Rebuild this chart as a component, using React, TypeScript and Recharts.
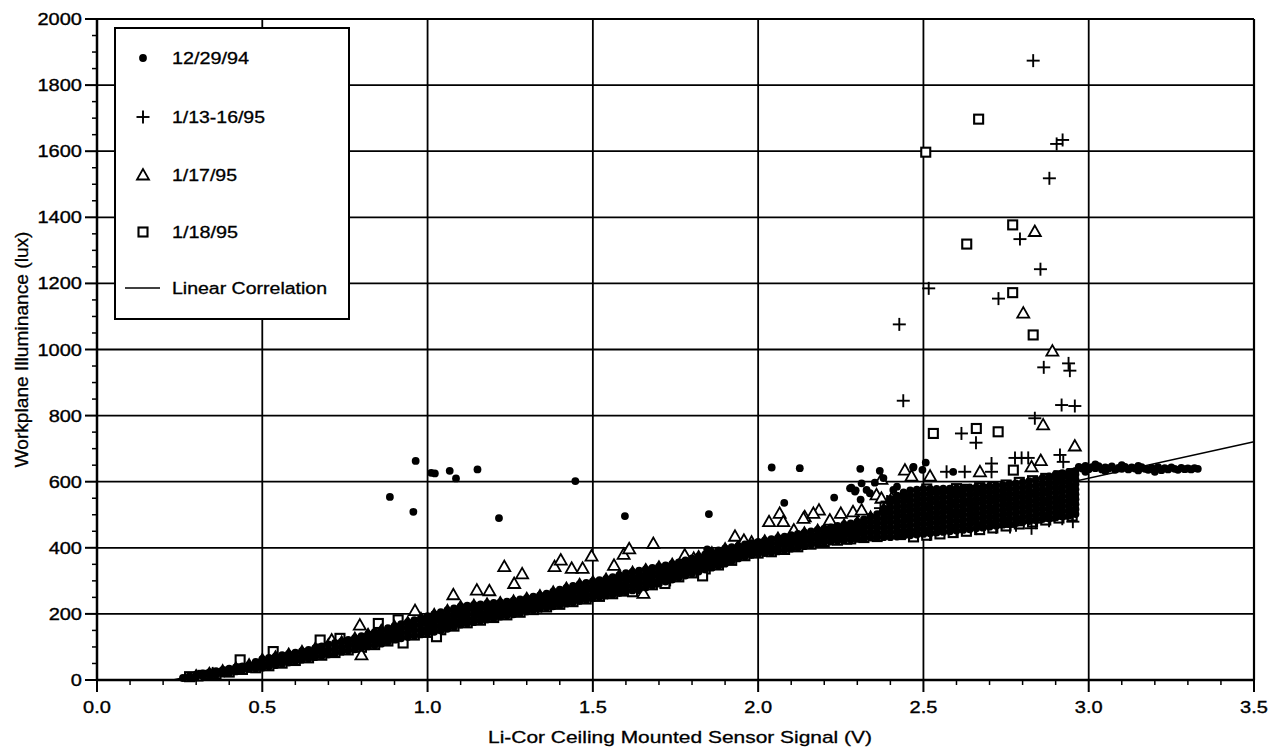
import { ScatterChart, Scatter, XAxis, YAxis, ReferenceLine, Legend } from "recharts";

const FONT = "'Liberation Sans', Arial, Helvetica, sans-serif";

// axis ticks (major + minor) and grid positions
const xTicks = [
  0, 0.1, 0.2, 0.3, 0.4, 0.5, 0.6, 0.7, 0.8, 0.9, 1.0, 1.1, 1.2, 1.3, 1.4, 1.5, 1.6, 1.7,
  1.8, 1.9, 2.0, 2.1, 2.2, 2.3, 2.4, 2.5, 2.6, 2.7, 2.8, 2.9, 3.0, 3.1, 3.2, 3.3, 3.4, 3.5,
];
const yTicks = [
  0, 50, 100, 150, 200, 250, 300, 350, 400, 450, 500, 550, 600, 650, 700, 750, 800, 850, 900,
  950, 1000, 1050, 1100, 1150, 1200, 1250, 1300, 1350, 1400, 1450, 1500, 1550, 1600, 1650,
  1700, 1750, 1800, 1850, 1900, 1950, 2000,
];
const xGrid = [0.5, 1.0, 1.5, 2.0, 2.5, 3.0];
const yGrid = [200, 400, 600, 800, 1000, 1200, 1400, 1600, 1800];

const legendNames = ["12/29/94", "1/13-16/95", "1/17/95", "1/18/95", "Linear Correlation"];

// 12/29/94 (dots) — columns are [x, y, y, ...]
const dotBand = [
  [0.26, 6], [0.28, 6, 12], [0.3, 8, 16], [0.32, 12, 20], [0.34, 14, 23], [0.36, 16, 27],
  [0.38, 19, 30], [0.4, 21, 34], [0.42, 26, 38], [0.44, 30, 41], [0.46, 33, 46],
  [0.48, 35, 48, 55], [0.5, 37, 50, 63], [0.52, 41, 54, 67], [0.54, 45, 58, 71],
  [0.56, 49, 62, 75], [0.58, 53, 66, 79], [0.6, 57, 70, 83], [0.62, 61, 74, 87],
  [0.64, 65, 78, 91], [0.66, 69, 83, 96], [0.68, 73, 88, 102], [0.7, 77, 92, 108],
  [0.72, 81, 96, 112], [0.74, 85, 100, 116], [0.76, 89, 105, 121], [0.78, 93, 104, 116, 127],
  [0.8, 97, 109, 121, 133], [0.82, 101, 114, 126, 139], [0.84, 105, 118, 132, 145],
  [0.86, 110, 124, 137, 151], [0.88, 116, 130, 143, 157], [0.9, 122, 136, 149, 163],
  [0.92, 126, 140, 155, 169], [0.94, 130, 145, 160, 175], [0.96, 134, 150, 165, 181],
  [0.98, 138, 154, 171, 187], [1.0, 142, 155, 168, 180, 193], [1.02, 146, 159, 173, 186, 199],
  [1.04, 150, 164, 178, 191, 205], [1.06, 155, 169, 183, 197, 211], [1.08, 161, 175, 189, 203, 217],
  [1.1, 167, 181, 195, 209, 223], [1.12, 171, 185, 198, 212, 225], [1.14, 175, 188, 201, 214, 227],
  [1.16, 179, 192, 204, 217, 229], [1.18, 183, 195, 207, 219, 231], [1.2, 187, 199, 210, 222, 233],
  [1.22, 191, 202, 213, 224, 235], [1.24, 195, 206, 216, 227, 237], [1.26, 199, 209, 220, 230, 240],
  [1.28, 203, 213, 224, 234, 244], [1.3, 207, 217, 228, 238, 248], [1.32, 211, 221, 232, 242, 252],
  [1.34, 215, 225, 236, 246, 256], [1.36, 219, 230, 240, 251, 261], [1.38, 223, 234, 245, 256, 267],
  [1.4, 227, 239, 250, 262, 273], [1.42, 231, 243, 255, 267, 279], [1.44, 235, 248, 260, 273, 285],
  [1.46, 239, 252, 265, 277, 290], [1.48, 243, 256, 269, 281, 294], [1.5, 247, 260, 273, 285, 298],
  [1.52, 251, 264, 277, 289, 302], [1.54, 255, 268, 281, 293, 306], [1.56, 259, 272, 285, 298, 311],
  [1.58, 263, 277, 290, 304, 317], [1.6, 267, 281, 295, 309, 323], [1.62, 271, 285, 299, 313, 327],
  [1.64, 275, 289, 303, 317, 331], [1.66, 280, 294, 307, 321, 335], [1.68, 286, 299, 313, 326, 339],
  [1.7, 292, 305, 318, 330, 343], [1.72, 298, 310, 323, 335, 347], [1.74, 304, 316, 328, 339, 351],
  [1.76, 310, 322, 333, 345, 356], [1.78, 316, 328, 339, 351, 362], [1.8, 322, 334, 345, 357, 368],
  [1.82, 328, 340, 351, 363, 374], [1.84, 334, 346, 357, 369, 380], [1.86, 340, 352, 363, 375, 386],
  [1.88, 346, 358, 369, 381, 392], [1.9, 352, 364, 375, 387, 398], [1.92, 360, 371, 381, 392, 402],
  [1.94, 368, 381, 393, 406], [1.96, 374, 386, 398, 410], [1.98, 378, 390, 402, 414],
  [2.0, 382, 394, 406, 418], [2.02, 384, 397, 409, 422], [2.04, 386, 399, 413, 426],
  [2.06, 389, 403, 416, 430], [2.08, 393, 407, 420, 434], [2.1, 397, 411, 424, 438],
  [2.12, 401, 415, 428, 442], [2.14, 405, 419, 432, 446], [2.16, 409, 423, 436, 450],
  [2.18, 413, 427, 440, 454], [2.2, 417, 431, 444, 458], [2.22, 419, 430, 440, 451, 462],
  [2.24, 421, 432, 443, 455, 466], [2.26, 423, 435, 446, 458, 470], [2.28, 425, 437, 450, 462, 474],
  [2.3, 427, 440, 452, 465, 478], [2.32, 429, 443, 457, 472, 486], [2.34, 431, 447, 463, 478, 494],
  [2.36, 432, 446, 460, 474, 488, 502], [2.38, 432, 446, 461, 475, 489, 504, 518],
];
const dotMass = [
  [2.4, 432, 447, 462, 477, 492, 507, 522, 537, 548],
  [2.42, 434, 449, 464, 479, 494, 509, 524, 539, 554, 558],
  [2.44, 436, 451, 466, 481, 496, 511, 526, 541, 556, 568],
  [2.46, 438, 453, 468, 483, 498, 513, 528, 543, 558, 574],
  [2.48, 440, 455, 470, 485, 500, 515, 530, 545, 560, 576],
  [2.5, 442, 457, 472, 487, 502, 517, 532, 547, 562, 578],
  [2.52, 444, 459, 474, 489, 504, 519, 534, 549, 564, 578],
  [2.54, 446, 461, 476, 491, 506, 521, 536, 551, 566, 578],
  [2.56, 448, 463, 478, 493, 508, 523, 538, 553, 568, 579],
  [2.58, 450, 465, 480, 495, 510, 525, 540, 555, 570, 579],
  [2.6, 452, 467, 482, 497, 512, 527, 542, 557, 572, 580],
  [2.62, 454, 469, 484, 499, 514, 529, 544, 559, 574, 581],
  [2.64, 456, 471, 486, 501, 516, 531, 546, 561, 576, 582],
  [2.66, 459, 474, 489, 504, 519, 534, 549, 564, 579, 583],
  [2.68, 461, 476, 491, 506, 521, 536, 551, 566, 581, 585],
  [2.7, 464, 479, 494, 509, 524, 539, 554, 569, 584, 586],
  [2.72, 467, 482, 497, 512, 527, 542, 557, 572, 588],
  [2.74, 470, 485, 500, 515, 530, 545, 560, 575, 590],
  [2.76, 473, 488, 503, 518, 533, 548, 563, 578, 593],
  [2.78, 475, 490, 505, 520, 535, 550, 565, 580, 595],
  [2.8, 478, 493, 508, 523, 538, 553, 568, 583, 598],
  [2.82, 481, 496, 511, 526, 541, 556, 571, 586, 602],
  [2.84, 484, 499, 514, 529, 544, 559, 574, 589, 606],
  [2.86, 487, 502, 517, 532, 547, 562, 577, 592, 611],
  [2.88, 489, 504, 519, 534, 549, 564, 579, 594, 609, 616],
  [2.9, 492, 507, 522, 537, 552, 567, 582, 597, 612, 622],
  [2.92, 495, 510, 525, 540, 555, 570, 585, 600, 615, 626],
  [2.94, 498, 513, 528, 543, 558, 573, 588, 603, 618, 630],
  [2.96, 502, 517, 532, 547, 562, 577, 592, 607, 622, 633],
];
const dotTail = [
  [2.97, 645], [2.98, 640], [2.99, 648], [2.99, 630], [3.0, 638], [3.01, 644], [3.02, 641],
  [3.02, 652], [3.03, 647], [3.04, 637], [3.05, 643], [3.05, 632], [3.06, 640], [3.07, 646],
  [3.08, 636], [3.09, 642], [3.1, 639], [3.1, 650], [3.11, 645], [3.12, 637], [3.13, 643],
  [3.14, 640], [3.15, 634], [3.15, 648], [3.16, 644], [3.17, 639], [3.18, 636], [3.19, 642],
  [3.2, 638], [3.2, 630], [3.21, 644], [3.22, 635], [3.23, 641], [3.24, 637], [3.25, 643],
  [3.26, 639], [3.27, 636], [3.28, 642], [3.29, 638], [3.3, 640], [3.31, 637], [3.32, 641],
  [3.33, 639],
];
const dotOut = [
  [0.886, 554], [0.957, 509], [0.964, 663], [1.011, 627], [1.022, 625], [1.067, 633],
  [1.086, 610], [1.151, 637], [1.216, 490], [1.447, 602], [1.597, 496], [1.851, 502],
  [1.846, 395], [2.041, 643], [2.126, 641], [2.079, 536], [2.23, 552], [2.282, 582],
  [2.295, 574], [2.309, 639], [2.313, 595], [2.328, 575], [2.338, 565], [2.31, 546],
  [2.353, 597], [2.368, 633], [2.379, 611], [2.409, 575], [2.42, 585], [2.469, 643],
  [2.497, 636], [2.507, 658], [2.47, 645], [2.59, 630], [2.278, 580], [2.293, 570],
];

// 1/13-16/95 (plus signs)
const crossMass = [
  [2.44, 445, 500, 550], [2.52, 440, 495, 545], [2.6, 450, 505, 560], [2.66, 458, 520, 575],
  [2.72, 462, 515, 570], [2.78, 468, 525, 580], [2.84, 476, 530, 590], [2.88, 482, 540, 600],
  [2.92, 488, 545, 610], [2.95, 500, 555, 622],
];
const crossBand = [
  [0.35, 20], [0.62, 70], [0.92, 145], [1.22, 212], [1.52, 272], [1.82, 350], [2.02, 400],
  [2.1, 420], [2.18, 432], [2.26, 446], [2.34, 462], [2.37, 520], [2.39, 540],
];
const crossOut = [
  [2.832, 1874], [2.903, 1622], [2.921, 1634], [2.881, 1518], [2.792, 1334], [2.854, 1243],
  [2.516, 1185], [2.727, 1154], [2.427, 1076], [2.864, 946], [2.939, 958], [2.943, 936],
  [2.439, 845], [2.918, 832], [2.958, 829], [2.837, 792], [2.615, 746], [2.659, 718],
  [2.777, 672], [2.797, 672], [2.817, 672], [2.913, 681], [2.923, 660], [2.57, 630],
  [2.625, 630], [2.706, 655], [2.706, 630], [2.952, 479], [2.827, 459], [2.762, 463],
];

// 1/17/95 (triangles)
const triBand = [
  [0.3, 12], [0.34, 19], [0.38, 27], [0.42, 35], [0.46, 45], [0.5, 61], [0.54, 69], [0.58, 77],
  [0.62, 85], [0.66, 94], [0.7, 106], [0.74, 114], [0.78, 125], [0.82, 137], [0.86, 149],
  [0.9, 161], [0.94, 173], [0.98, 185], [1.02, 197], [1.06, 209], [1.1, 221], [1.14, 225],
  [1.18, 229], [1.22, 233], [1.26, 238], [1.3, 246], [1.34, 254], [1.38, 265], [1.42, 277],
  [1.46, 288], [1.5, 296], [1.54, 304], [1.58, 315], [1.62, 325], [1.66, 333], [1.7, 341],
  [1.74, 349], [1.78, 360], [1.82, 372], [1.86, 384], [1.9, 396], [1.94, 404], [1.98, 412],
  [2.02, 420], [2.06, 428], [2.1, 436], [2.14, 444], [2.18, 452], [2.22, 460], [2.26, 468],
  [2.3, 476], [2.34, 492], [2.38, 516],
];
const triOut = [
  [0.71, 121], [0.795, 166], [0.8, 76], [0.962, 210], [1.078, 258], [1.149, 272], [1.187, 270],
  [1.232, 343], [1.262, 292], [1.286, 321], [1.384, 343], [1.403, 363], [1.436, 338],
  [1.469, 338], [1.496, 375], [1.564, 347], [1.593, 380], [1.61, 397], [1.683, 413],
  [1.778, 378], [1.805, 368], [1.93, 435], [1.957, 423], [1.98, 417], [1.653, 262],
  [2.033, 479], [2.065, 504], [2.076, 479], [2.108, 454], [2.141, 494], [2.184, 514],
  [2.217, 484], [2.25, 504], [2.287, 509], [2.313, 514], [2.358, 560], [2.373, 550],
  [2.404, 550], [2.167, 504], [2.137, 489], [2.373, 607], [2.444, 635], [2.464, 617],
  [2.52, 617], [2.671, 630], [2.827, 645], [2.855, 664], [2.958, 708], [2.862, 772],
  [2.89, 995], [2.802, 1110], [2.837, 1357],
];

// 1/18/95 (squares)
const squareBand = [
  [0.28, 10], [0.32, 14], [0.36, 18], [0.4, 24], [0.44, 32], [0.48, 37], [0.52, 43], [0.56, 51],
  [0.6, 59], [0.64, 67], [0.68, 75], [0.72, 83], [0.76, 91], [0.8, 99], [0.84, 107], [0.88, 118],
  [0.92, 128], [0.96, 136], [1.0, 144], [1.04, 152], [1.08, 163], [1.12, 173], [1.16, 181],
  [1.2, 189], [1.24, 197], [1.28, 205], [1.32, 213], [1.36, 221], [1.4, 229], [1.44, 237],
  [1.48, 245], [1.52, 253], [1.56, 261], [1.6, 269], [1.64, 277], [1.68, 288], [1.72, 300],
  [1.76, 312], [1.8, 324], [1.84, 336], [1.88, 348], [1.92, 362], [1.96, 376], [2.0, 384],
  [2.04, 388], [2.08, 395], [2.12, 403], [2.16, 411], [2.2, 419], [2.24, 423], [2.28, 427],
  [2.32, 431], [2.36, 434],
];
const squareMass = [
  [2.43, 440, 465, 490, 515, 540],
  [2.47, 433, 458, 483, 508, 533, 558],
  [2.51, 438, 462, 488, 512, 537, 562, 578],
  [2.55, 442, 468, 492, 518, 542, 566],
  [2.59, 446, 472, 497, 522, 548, 572],
  [2.63, 450, 475, 500, 526, 552, 577],
  [2.67, 455, 480, 505, 530, 557, 582],
  [2.71, 460, 485, 510, 535, 560, 585],
  [2.75, 466, 490, 516, 540, 566, 590],
  [2.79, 472, 497, 522, 547, 572, 598],
  [2.83, 478, 502, 528, 552, 578, 603],
  [2.87, 484, 508, 534, 560, 585, 610],
  [2.91, 490, 514, 540, 566, 592, 618],
  [2.95, 496, 520, 546, 572, 598, 624],
];
const squareOut = [
  [0.433, 61], [0.533, 86], [0.675, 121], [0.735, 126], [0.851, 171], [0.911, 182], [0.926, 112],
  [1.027, 131], [1.62, 267], [1.718, 292], [1.832, 315], [2.172, 424], [2.268, 426],
  [2.6, 579], [2.656, 573], [2.772, 635], [2.53, 746], [2.66, 761], [2.726, 751],
  [2.832, 1044], [2.77, 1172], [2.631, 1319], [2.77, 1377], [2.507, 1597], [2.667, 1697],
];

// linear correlation end points
const fitLine = [
  [0.23, 0],
  [3.5, 721],
];

const cols = (c: number[][]) => c.flatMap(([x, ...ys]) => ys.map((y) => ({ x, y })));
const pts = (p: number[][]) => p.map(([x, y]) => ({ x, y }));

const dotData = [...cols(dotBand), ...cols(dotMass), ...pts(dotTail), ...pts(dotOut)];
const crossData = [...cols(crossMass), ...pts(crossBand), ...pts(crossOut)];
const triData = [...pts(triBand), ...pts(triOut)];
const squareData = [...pts(squareBand), ...cols(squareMass), ...pts(squareOut)];
const fitData = pts(fitLine);

function DotMark({ cx, cy }: any) {
  return <circle cx={cx} cy={cy} r={3.9} fill="#000" />;
}
function PlusMark({ cx, cy }: any) {
  return (
    <g stroke="#000" strokeWidth={1.9}>
      <line x1={cx - 6.5} x2={cx + 6.5} y1={cy} y2={cy} />
      <line x1={cx} x2={cx} y1={cy - 6.5} y2={cy + 6.5} />
    </g>
  );
}
function TriMark({ cx, cy }: any) {
  return (
    <polygon
      points={`${cx},${cy - 6} ${cx - 6},${cy + 4.5} ${cx + 6},${cy + 4.5}`}
      fill="#fff"
      stroke="#000"
      strokeWidth={1.8}
    />
  );
}
function SquareMark({ cx, cy }: any) {
  return <rect x={cx - 4.5} y={cy - 4.5} width={9} height={9} fill="#fff" stroke="#000" strokeWidth={2.1} />;
}
const NoMark = () => <g />;

const isMajor = (v: number, step: number) => Math.abs(v / step - Math.round(v / step)) < 1e-6;

function XTick({ x, y, payload }: any) {
  const v = payload.value;
  const major = isMajor(v, 0.5);
  return (
    <g>
      <line x1={x} x2={x} y1={y} y2={y + (major ? 12 : 5)} stroke="#000" strokeWidth={major ? 2 : 1.5} />
      {major && (
        <text
          transform={`translate(${x},${y + 33}) scale(1.25,1)`}
          textAnchor="middle"
          fontSize={16}
          fontFamily={FONT}
          fill="#000"
          stroke="#000"
          strokeWidth={0.35}
        >
          {v.toFixed(1)}
        </text>
      )}
    </g>
  );
}

function YTick({ x, y, payload }: any) {
  const v = payload.value;
  const major = isMajor(v, 200);
  return (
    <g>
      <line x1={x - (major ? 12 : 5)} x2={x} y1={y} y2={y} stroke="#000" strokeWidth={major ? 2 : 1.5} />
      {major && (
        <text
          transform={`translate(${x - 15},${y + 6}) scale(1.25,1)`}
          textAnchor="end"
          fontSize={16}
          fontFamily={FONT}
          fill="#000"
          stroke="#000"
          strokeWidth={0.35}
        >
          {v}
        </text>
      )}
    </g>
  );
}

function XTitle() {
  return (
    <text
      x={680}
      y={743}
      textAnchor="middle"
      fontSize={17}
      fontFamily={FONT}
      textLength={384}
      lengthAdjust="spacingAndGlyphs"
      fill="#000"
      stroke="#000"
      strokeWidth={0.3}
    >
      Li-Cor Ceiling Mounted Sensor Signal (V)
    </text>
  );
}

function YTitle() {
  return (
    <text
      transform="translate(28,349.5) rotate(-90)"
      textAnchor="middle"
      fontSize={19}
      fontFamily={FONT}
      textLength={236}
      lengthAdjust="spacingAndGlyphs"
      fill="#000"
      stroke="#000"
      strokeWidth={0.3}
    >
      Workplane Illuminance (lux)
    </text>
  );
}

const legendRows = [31, 90, 148, 205, 261];
const legendWidths = [77, 93, 65, 66, 155];

function LegendBox() {
  const marks = [
    <DotMark cx={29} cy={legendRows[0]} />,
    <PlusMark cx={29} cy={legendRows[1]} />,
    <TriMark cx={29} cy={legendRows[2]} />,
    <SquareMark cx={29} cy={legendRows[3]} />,
    <line x1={11} x2={46} y1={legendRows[4]} y2={legendRows[4]} stroke="#000" strokeWidth={1.5} />,
  ];
  return (
    <svg width={236} height={293} style={{ display: "block" }}>
      <rect x={1} y={1} width={234} height={291} fill="#fff" stroke="#000" strokeWidth={2} />
      {legendNames.map((name, i) => (
        <g key={name}>
          {marks[i]}
          <text
            x={58}
            y={legendRows[i] + 6}
            fontSize={16}
            fontFamily={FONT}
            textLength={legendWidths[i]}
            lengthAdjust="spacingAndGlyphs"
            fill="#000"
            stroke="#000"
            strokeWidth={0.3}
          >
            {name}
          </text>
        </g>
      ))}
    </svg>
  );
}

export default function App() {
  return (
    <div style={{ position: "absolute", left: 0, top: 0, background: "#fff" }}>
      <ScatterChart width={1280} height={747} margin={{ top: 19, right: 26, bottom: 0, left: 0 }}>
        <XAxis
          type="number"
          dataKey="x"
          domain={[0, 3.5]}
          ticks={xTicks}
          interval={0}
          height={67}
          tickSize={0}
          tickMargin={0}
          tickLine={false}
          tick={<XTick />}
          axisLine={{ stroke: "#000", strokeWidth: 2.5 }}
          label={<XTitle />}
        />
        <YAxis
          type="number"
          dataKey="y"
          domain={[0, 2000]}
          ticks={yTicks}
          interval={0}
          width={97}
          tickSize={0}
          tickMargin={0}
          tickLine={false}
          tick={<YTick />}
          axisLine={{ stroke: "#000", strokeWidth: 2.5 }}
          label={<YTitle />}
        />
        {xGrid.map((v) => (
          <ReferenceLine key={`x${v}`} x={v} stroke="#000" strokeWidth={1.8} />
        ))}
        {yGrid.map((v) => (
          <ReferenceLine key={`y${v}`} y={v} stroke="#000" strokeWidth={1.8} />
        ))}
        <ReferenceLine x={3.5} stroke="#000" strokeWidth={2.2} />
        <ReferenceLine y={2000} stroke="#000" strokeWidth={2.2} />
        <Legend
          layout="horizontal"
          verticalAlign="middle"
          align="center"
          content={() => <LegendBox />}
          wrapperStyle={{ left: 114, top: 27, width: 236, height: 293 }}
        />
        <Scatter
          name="Linear Correlation"
          data={fitData}
          line={{ stroke: "#000", strokeWidth: 1.5 }}
          shape={NoMark}
          isAnimationActive={false}
        />
        <Scatter name="1/18/95" data={squareData} shape={SquareMark} isAnimationActive={false} />
        <Scatter name="1/17/95" data={triData} shape={TriMark} isAnimationActive={false} />
        <Scatter name="1/13-16/95" data={crossData} shape={PlusMark} isAnimationActive={false} />
        <Scatter name="12/29/94" data={dotData} shape={DotMark} isAnimationActive={false} />
      </ScatterChart>
    </div>
  );
}
